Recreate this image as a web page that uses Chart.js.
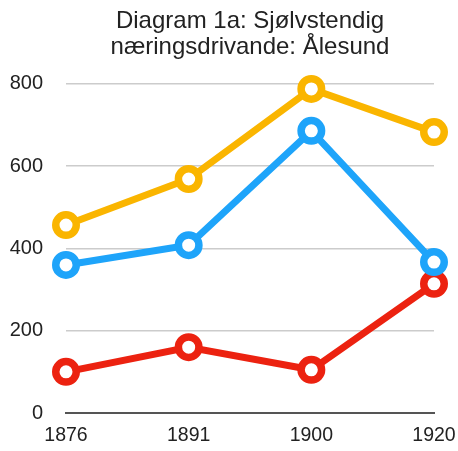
<!DOCTYPE html>
<html>
<head>
    <script src="https://cdn.jsdelivr.net/npm/chart.js"></script>
    <style>
        body { margin: 0; background: #fff; }
        #wrapper { width: 458px; height: 451px; }
    </style>
</head>
<body>
    <div id="wrapper">
        <canvas id="chart"></canvas>
    </div>
<script>
    var years = ['1876', '1891', '1900', '1920'];
    var seriesOrange = [457, 569, 788, 683];
    var seriesBlue = [360, 408, 686, 367];
    var seriesRed = [100, 160, 105, 314];

    function line(data, color) {
        return {
            data: data,
            borderColor: color,
            backgroundColor: '#ffffff',
            borderWidth: 7,
            pointRadius: 10.25,
            pointBorderWidth: 7.5,
            pointBackgroundColor: '#ffffff',
            pointBorderColor: color,
            fill: false,
            tension: 0,
            clip: false
        };
    }

    new Chart('chart', {
        type: 'line',
        data: {
            labels: years,
            datasets: [
                line(seriesOrange, 'rgb(250, 181, 0)'),
                line(seriesBlue, 'rgb(30, 164, 250)'),
                line(seriesRed, 'rgb(236, 34, 16)')
            ]
        },
        options: {
            responsive: true,
            maintainAspectRatio: false,
            animation: false,
            layout: { autoPadding: false, padding: { left: 0, right: 24, top: 8, bottom: 4 } },
            plugins: {
                legend: { display: false },
                tooltip: { enabled: false },
                title: {
                    display: true,
                    fullSize: false,
                    text: ['Diagram 1a: Sjølvstendig', 'næringsdrivande: Ålesund'],
                    color: '#222',
                    font: { family: 'Liberation Sans', size: 24, weight: 'normal', lineHeight: 1.083 },
                    padding: { top: 0, bottom: 24 }
                }
            },
            scales: {
                x: {
                    offset: false,
                    grid: { display: false, drawTicks: false },
                    border: { display: true, color: '#555', width: 2 },
                    ticks: { color: '#222', font: { family: 'Liberation Sans', size: 19.5 }, padding: 11, maxRotation: 0 },
                    afterFit: function (scale) {
                        scale.height = 34;
                        scale.paddingLeft = 0;
                        scale.paddingRight = 0;
                    }
                },
                y: {
                    min: 0,
                    max: 800,
                    ticks: { stepSize: 200, color: '#222', font: { family: 'Liberation Sans', size: 20 }, padding: 23 },
                    grid: { color: '#cccccc', lineWidth: 1.5, drawTicks: false },
                    border: { display: false },
                    afterFit: function (scale) { scale.width = 66; }
                }
            }
        }
    });
</script>
</body>
</html>
